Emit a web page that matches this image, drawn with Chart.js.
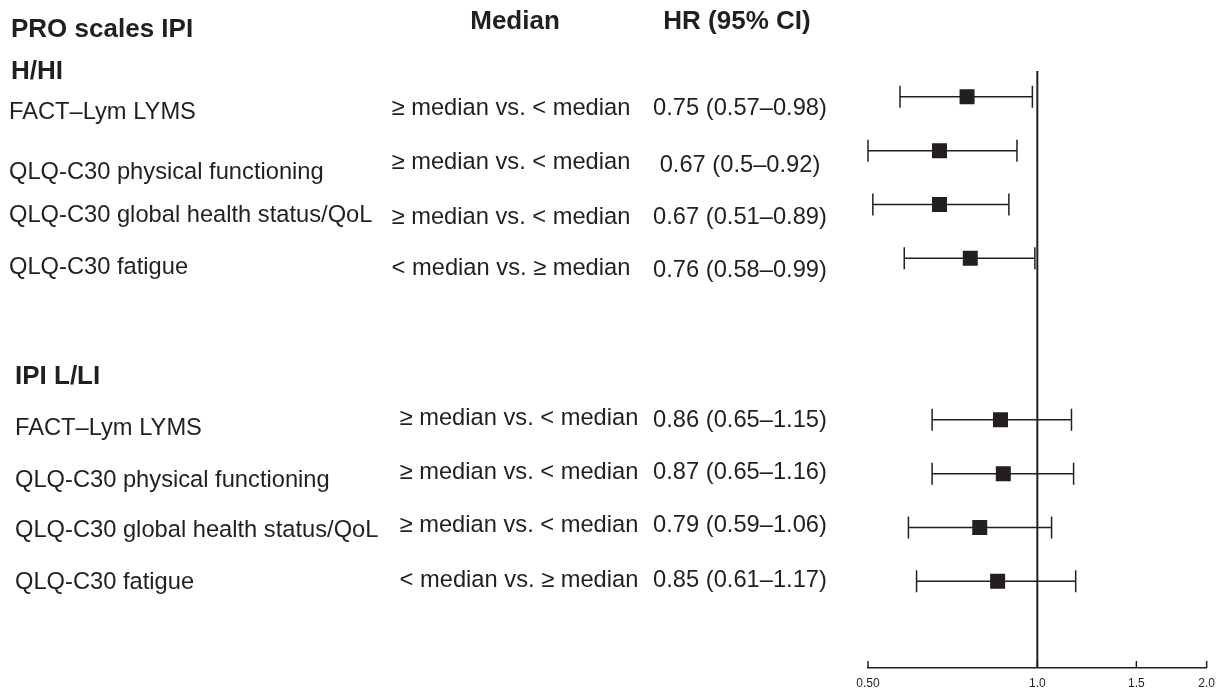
<!DOCTYPE html>
<html>
<head>
<meta charset="utf-8">
<script src="https://cdn.jsdelivr.net/npm/chart.js@4"></script>
<style>
  html, body { margin: 0; padding: 0; background: #fff; }
  #wrap { width: 1223px; height: 690px; }
</style>
</head>
<body>
<div id="wrap"><canvas id="forest" width="1223" height="690"></canvas></div>
<script>
// data
const groups = ['H/HI', 'IPI L/LI'];
const scales = [
  'FACT\u2013Lym LYMS', 'QLQ-C30 physical functioning', 'QLQ-C30 global health status/QoL', 'QLQ-C30 fatigue',
  'FACT\u2013Lym LYMS', 'QLQ-C30 physical functioning', 'QLQ-C30 global health status/QoL', 'QLQ-C30 fatigue'
];
const comparisons = [
  '\u2265 median vs. < median', '\u2265 median vs. < median', '\u2265 median vs. < median', '< median vs. \u2265 median',
  '\u2265 median vs. < median', '\u2265 median vs. < median', '\u2265 median vs. < median', '< median vs. \u2265 median'
];
const hr = [0.75, 0.67, 0.67, 0.76, 0.86, 0.87, 0.79, 0.85];
const ciLow = [0.57, 0.5, 0.51, 0.58, 0.65, 0.65, 0.59, 0.61];
const ciHigh = [0.98, 0.92, 0.89, 0.99, 1.15, 1.16, 1.06, 1.17];
const hrText = [
  '0.75 (0.57\u20130.98)', '0.67 (0.5\u20130.92)', '0.67 (0.51\u20130.89)', '0.76 (0.58\u20130.99)',
  '0.86 (0.65\u20131.15)', '0.87 (0.65\u20131.16)', '0.79 (0.59\u20131.06)', '0.85 (0.61\u20131.17)'
];
const rows = [0, 1, 2, 3, 6, 7, 8, 9];
const tickVals = [0.5, 1, 1.5, 2];
const tickLabels = ['0.50', '1.0', '1.5', '2.0'];

// layout of the text columns (pixels)
const labelX = [9, 9, 9, 9, 15, 15, 15, 15];
const labelY = [112, 172, 215, 267, 428, 480, 530, 582];
const compX = [511, 511, 511, 511, 519, 519, 519, 519];
const compY = [108, 162, 217, 268, 418, 472, 525, 580];
const hrX = 740;
const hrY = [108, 165, 217, 270, 420, 472, 525, 580];

const INK = '#231f20';
const FONT = '"Liberation Sans", Arial, Helvetica, sans-serif';

const forestPlugin = {
  id: 'forest',
  beforeDatasetsDraw(chart) {
    const { ctx, chartArea } = chart;
    const xs = chart.scales.x, ys = chart.scales.y;
    ctx.save();
    ctx.strokeStyle = INK;

    // line of no effect
    const x1 = xs.getPixelForValue(1);
    ctx.lineWidth = 2;
    ctx.beginPath();
    ctx.moveTo(x1, chartArea.top);
    ctx.lineTo(x1, chartArea.bottom);
    ctx.stroke();

    // confidence intervals
    ctx.lineWidth = 1.5;
    rows.forEach((r, i) => {
      const y = ys.getPixelForValue(r);
      const a = xs.getPixelForValue(ciLow[i]);
      const b = xs.getPixelForValue(ciHigh[i]);
      ctx.beginPath();
      ctx.moveTo(a, y); ctx.lineTo(b, y);
      ctx.moveTo(a, y - 11); ctx.lineTo(a, y + 11);
      ctx.moveTo(b, y - 11); ctx.lineTo(b, y + 11);
      ctx.stroke();
    });

    // axis ticks point up into the plot
    tickVals.forEach(v => {
      const x = xs.getPixelForValue(v);
      ctx.beginPath();
      ctx.moveTo(x, chartArea.bottom - 7);
      ctx.lineTo(x, chartArea.bottom);
      ctx.stroke();
    });
    ctx.restore();
  },
  afterDraw(chart) {
    const ctx = chart.ctx;
    ctx.save();
    ctx.fillStyle = INK;
    ctx.textBaseline = 'middle';

    // headers
    ctx.font = 'bold 26px ' + FONT;
    ctx.textAlign = 'left';
    ctx.fillText('PRO scales IPI', 11, 30);
    ctx.fillText(groups[0], 11, 72);
    ctx.fillText(groups[1], 15, 377);
    ctx.textAlign = 'center';
    ctx.fillText('Median', 515, 22);
    ctx.fillText('HR (95% CI)', 737, 22);

    // rows
    ctx.font = '23.7px ' + FONT;
    scales.forEach((s, i) => {
      ctx.textAlign = 'left';
      ctx.fillText(s, labelX[i], labelY[i]);
      ctx.textAlign = 'center';
      ctx.fillText(comparisons[i], compX[i], compY[i]);
      ctx.fillText(hrText[i], hrX, hrY[i]);
    });
    ctx.restore();
  }
};

new Chart(document.getElementById('forest'), {
  type: 'scatter',
  data: {
    datasets: [{
      data: hr.map((v, i) => ({ x: v, y: rows[i] })),
      pointStyle: 'rect',
      pointRadius: 10.6,
      pointHoverRadius: 10.6,
      backgroundColor: INK,
      borderWidth: 0
    }]
  },
  options: {
    responsive: false,
    animation: false,
    layout: { padding: { left: 868, right: 13, top: 71, bottom: 0 } },
    plugins: { legend: { display: false }, tooltip: { enabled: false } },
    scales: {
      x: {
        type: 'logarithmic',
        min: 0.5,
        max: 2,
        grid: { display: false, drawTicks: false },
        border: { display: true, color: INK, width: 1.5 },
        afterBuildTicks: s => { s.ticks = tickVals.map(v => ({ value: v })); },
        afterFit: s => { s.height = 22; },
        ticks: {
          autoSkip: false,
          maxRotation: 0,
          padding: 8,
          color: INK,
          font: { family: FONT, size: 12 },
          callback: v => tickLabels[tickVals.indexOf(v)]
        }
      },
      y: {
        type: 'linear',
        reverse: true,
        min: -0.48,
        max: 10.61,
        display: false
      }
    }
  },
  plugins: [forestPlugin]
});
</script>
</body>
</html>
